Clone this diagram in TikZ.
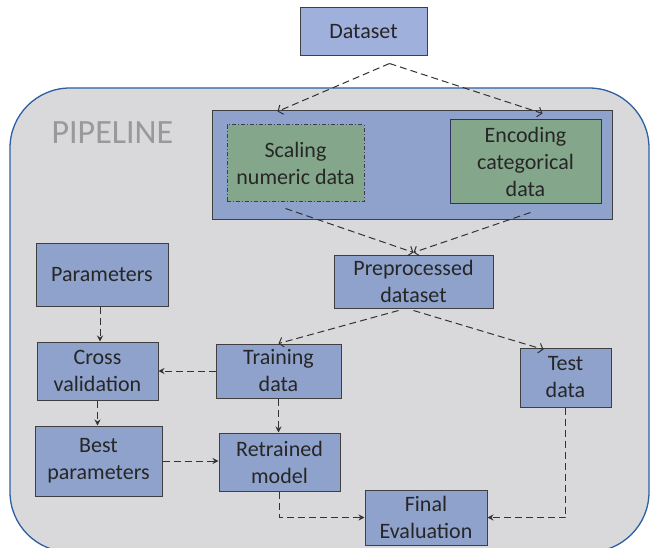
\documentclass[tikz,border=0pt]{standalone}
\usepackage{fontspec}
\setmainfont{Carlito}
\usetikzlibrary{arrows.meta,calc}
\definecolor{boxfill}{HTML}{8FA2CC}
\definecolor{dsfill}{HTML}{A0B0DC}
\definecolor{greenfill}{HTML}{84A78C}
\definecolor{pipefill}{HTML}{D9D9DB}
\definecolor{pipeline}{HTML}{2E5FA3}
\definecolor{edgegray}{HTML}{3F3F3F}
\definecolor{txt}{HTML}{262626}
\definecolor{arr}{HTML}{333333}
\tikzset{
  box/.style={draw=edgegray, line width=1pt, fill=boxfill, inner sep=0pt, align=center,
    text=txt, font=\fontsize{22}{27}\selectfont},
  gbox/.style={box, fill=greenfill},
  conn/.style={draw=arr, line width=1pt, dash pattern=on 7pt off 4pt,
    -{Stealth[length=6pt,width=6pt]}},
  dconn/.style={draw=arr, line width=1pt, dash pattern=on 7pt off 4pt,
    -{Straight Barb[length=4pt,width=10pt]}},
}
\begin{document}
\begin{tikzpicture}[x=1pt,y=1pt]
\useasboundingbox (0,0) rectangle (650,547);
\fill[white] (0,0) rectangle (650,547);
% pipeline container
\draw[draw=pipeline, line width=1.3pt, fill=pipefill, rounded corners=60pt] (10,-5) rectangle (649,459);
\node[text=gray!80, font=\fontsize{34}{40}\selectfont, anchor=west] (pipe) at (48,414) {PIPELINE};

\node[box, fill=dsfill, minimum width=127pt, minimum height=48pt] (ds) at (363.5,515) {Dataset};
\node[box, minimum width=400pt, minimum height=109pt] (inner) at (412,381.5) {};
\node[gbox, draw=edgegray, dash pattern=on 4pt off 2pt on 1pt off 2pt, minimum width=137pt, minimum height=77pt] (scal) at (295.5,383.5) {Scaling\\numeric data};
\node[gbox, draw=edgegray!80!blue, minimum width=151pt, minimum height=84pt] (enc) at (525.5,385) {Encoding\\categorical\\data};
\node[box, minimum width=159pt, minimum height=53pt] (pre) at (413.5,265.5) {Preprocessed\\dataset};
\node[box, minimum width=132pt, minimum height=63pt] (param) at (102,272.5) {Parameters};
\node[box, minimum width=121pt, minimum height=58pt] (cross) at (97.5,176) {Cross\\validation};
\node[box, minimum width=125pt, minimum height=54pt] (train) at (278.5,176) {Training\\data};
\node[box, minimum width=91pt, minimum height=59pt] (test) at (565.5,169.5) {Test\\data};
\node[box, minimum width=127pt, minimum height=70pt] (best) at (98.5,86) {Best\\parameters};
\node[box, minimum width=121pt, minimum height=58pt] (ret) at (279.5,85) {Retrained\\model};
\node[box, minimum width=122pt, minimum height=55pt] (final) at (426,29.5) {Final\\Evaluation};

% Dataset split
\coordinate (peak) at ($(ds.south)+(26,-7)$);
\draw[dconn] (peak) -- ($(inner.north west)+(66,-1)$);
\draw[dconn] (peak) -- ($(inner.north east)+(-70,-3)$);
% into preprocessed
\draw[dconn] ($(scal.south)+(-10,-6)$) -- ($(pre.north)+(0,2)$);
\draw[dconn] ($(enc.south)+(5,-8)$) -- ($(pre.north)+(0,2)$);
% out of preprocessed
\draw[dconn] ($(pre.south)+(-15,-2)$) -- (train.north);
\draw[dconn] ($(pre.south)+(0,-2)$) -- ($(test.north)+(-22,-2)$);
% left branch
\coordinate (pbot) at ($(param.south)+(-2,0)$);
\draw[conn] (pbot) -- (pbot |- cross.north);
\draw[conn] (train.west) -- (cross.east);
\draw[conn] (cross.south) -- (cross.south |- best.north);
\draw[conn] (train.south) -- (train.south |- ret.north);
\draw[conn] (best.east) -- (best.east -| ret.west);
\draw[conn] (ret.south) |- (final.west);
\draw[conn] (test.south) |- (final.east);
\end{tikzpicture}
\end{document}
